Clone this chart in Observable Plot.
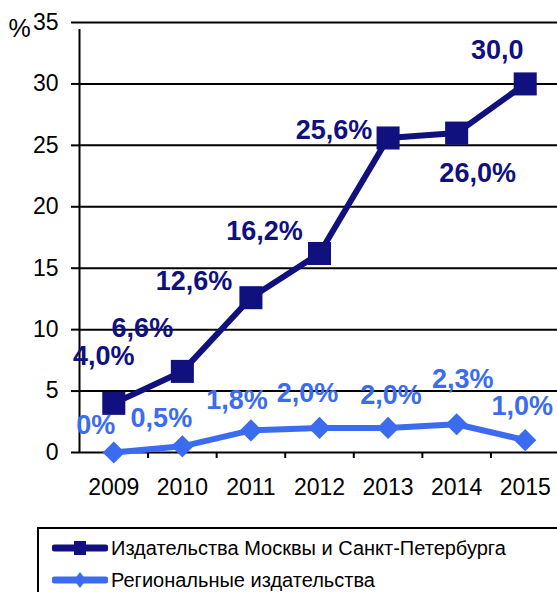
<!DOCTYPE html>
<html><head><meta charset="utf-8">
<script src="https://cdn.jsdelivr.net/npm/d3@7"></script>
<script src="https://cdn.jsdelivr.net/npm/@observablehq/plot@0.6"></script>
<style>
body{margin:0;background:#fff;font-family:"Liberation Sans",Arial,sans-serif;}
#wrap{position:relative;width:557px;height:592px;overflow:hidden;}
#chart svg{display:block;}
#legend{position:absolute;left:37px;top:527px;width:540px;height:90px;border:2px solid #000;box-sizing:border-box;background:#fff;}
.item{position:absolute;left:13px;height:26px;display:flex;align-items:center;font-size:20px;line-height:24px;color:#000;white-space:nowrap;}
.item svg{margin-right:3px;}
</style></head><body>
<div id="wrap"><div id="chart"></div><div id="legend"></div></div>
<script>
const years = [2009, 2010, 2011, 2012, 2013, 2014, 2015];
const moscow = [4.0, 6.6, 12.6, 16.2, 25.6, 26.0, 30.0];
const regional = [0, 0.5, 1.8, 2.0, 2.0, 2.3, 1.0];
const moscowLabels = ["4,0%", "6,6%", "12,6%", "16,2%", "25,6%", "26,0%", "30,0"];
const regionalLabels = ["0%", "0,5%", "1,8%", "2,0%", "2,0%", "2,3%", "1,0%"];
const yTicks = [0, 5, 10, 15, 20, 25, 30, 35];
const seriesNames = ["Издательства Москвы и Санкт-Петербурга", "Региональные издательства"];

// label placement offsets (pixels, relative to each point)
const moscowOffsets = [[-10,-47],[-40,-43],[-57,-16],[-55,-22],[-54,-8],[21,40],[-28,-34]];
const regionalOffsets = [[-18,-27],[-21,-28],[-14,-30],[-12,-35],[3,-33],[6,-45],[-3,-34]];

const DARK = "#10107e";
const LIGHT = "#3b6cf0";

const mData = years.map((y, i) => ({year: y, value: moscow[i], label: moscowLabels[i]}));
const rData = years.map((y, i) => ({year: y, value: regional[i], label: regionalLabels[i]}));
const boundaries = years.slice(1).map(y => y - 0.5);

const labelMarks = [];
mData.forEach((d, i) => labelMarks.push(Plot.text([d], {x: "year", y: "value", text: "label", dx: moscowOffsets[i][0], dy: moscowOffsets[i][1], fill: DARK, fontSize: 27, fontWeight: "bold"})));
rData.forEach((d, i) => labelMarks.push(Plot.text([d], {x: "year", y: "value", text: "label", dx: regionalOffsets[i][0], dy: regionalOffsets[i][1], fill: LIGHT, fontSize: 27, fontWeight: "bold"})));

const chart = Plot.plot({
  width: 557,
  height: 500,
  marginLeft: 79,
  marginRight: 0,
  marginTop: 22,
  marginBottom: 48,
  style: {fontFamily: "'Liberation Sans', Arial, sans-serif", background: "#fff", overflow: "visible"},
  x: {type: "linear", domain: [years[0] - 0.5, years[years.length - 1] + 0.5], range: [79, 559]},
  y: {domain: [0, 35]},
  marks: [
    Plot.ruleY(yTicks, {stroke: "#000", strokeWidth: 2}),
    Plot.ruleX([years[0] - 0.5], {y1: 0, y2: 35, stroke: "#000", strokeWidth: 2, insetBottom: -7}),
    Plot.axisY(yTicks, {tickSize: 8, tickPadding: 13, fontSize: 23, strokeWidth: 2, stroke: "#000", fill: "#000", label: null}),
    Plot.axisX(boundaries, {tickSize: 6, tickFormat: () => "", strokeWidth: 2, stroke: "#000", label: null}),
    Plot.axisX(years, {tickSize: 0, tickPadding: 26, tickFormat: d => String(d), fontSize: 23, fill: "#000", label: null}),
    Plot.text(["%"], {frameAnchor: "top-left", textAnchor: "middle", lineAnchor: "middle", text: d => d, dx: -60, dy: 6, fontSize: 25, fill: "#000"}),
    Plot.line(rData, {x: "year", y: "value", stroke: LIGHT, strokeWidth: 6}),
    Plot.dot(rData, {x: "year", y: "value", symbol: "diamond2", r: 10, fill: LIGHT}),
    Plot.line(mData, {x: "year", y: "value", stroke: DARK, strokeWidth: 6}),
    Plot.dot(mData, {x: "year", y: "value", symbol: "square", r: 13, fill: DARK}),
    ...labelMarks
  ]
});
document.getElementById("chart").appendChild(chart);

// legend
const legend = document.getElementById("legend");
const colors = [DARK, LIGHT];
const symbols = ["square", "diamond"];
seriesNames.forEach((name, i) => {
  const item = document.createElement("div");
  item.className = "item";
  item.style.top = (i === 0 ? 6 : 38) + "px";
  const marker = symbols[i] === "square"
    ? `<rect x="22" y="1" width="12" height="14" fill="${colors[i]}"/>`
    : `<path d="M28 0 L34 8 L28 16 L22 8 Z" fill="${colors[i]}"/>`;
  item.innerHTML = `<svg width="56" height="16"><line x1="3" x2="53" y1="8" y2="8" stroke="${colors[i]}" stroke-width="7" stroke-linecap="round"/>${marker}</svg><span>${name}</span>`;
  legend.appendChild(item);
});
</script>
</body></html>
